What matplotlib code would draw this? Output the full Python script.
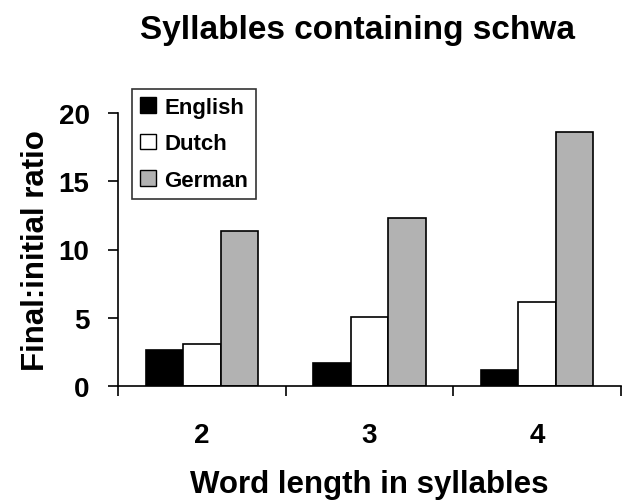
import matplotlib
matplotlib.use("Agg")
import matplotlib.pyplot as plt
import numpy as np
from matplotlib.patches import Patch

categories = ["2", "3", "4"]
languages = ["English", "Dutch", "German"]
english = [2.65, 1.68, 1.2]
dutch = [3.1, 5.07, 6.15]
german = [11.34, 12.27, 18.59]
series = [english, dutch, german]
colors = ["#000000", "#ffffff", "#b2b2b2"]

plt.rcParams['font.family'] = ['Liberation Sans', 'DejaVu Sans']
plt.rcParams['font.weight'] = 'bold'

W, H = 622, 502
fig = plt.figure(figsize=(W / 100, H / 100), dpi=100)
ax_l, ax_r, ax_t, ax_b = 118, 621, 113.7, 387.3
ax = fig.add_axes([ax_l / W, 1 - ax_b / H, (ax_r - ax_l) / W, (ax_b - ax_t) / H])

x = np.arange(1, len(categories) + 1)
w = 0.223
for i, (vals, c) in enumerate(zip(series, colors)):
    ax.bar(x + (i - 1) * w, vals, width=w, color=c, edgecolor='black',
           linewidth=1.2, label=languages[i])

ax.set_xlim(0.5, len(categories) + 0.5)
ax.set_ylim(0, 20)
ax.set_yticks([0, 5, 10, 15, 20])
ax.set_xticks(x)
ax.set_xticklabels(categories)
ax.set_xticks(np.arange(0.5, len(categories) + 1, 1.0), minor=True)
ax.tick_params(axis='x', which='major', length=0, pad=26, labelsize=20)
ax.tick_params(axis='x', which='minor', length=7.5, width=1.2, direction='out')
ax.tick_params(axis='y', length=7.5, width=1.2, direction='out', labelsize=20, pad=13)
for lbl in ax.get_xticklabels() + ax.get_yticklabels():
    lbl.set_fontweight('bold')
for s in ['top', 'right']:
    ax.spines[s].set_visible(False)
for s in ['left', 'bottom']:
    ax.spines[s].set_linewidth(1.2)

ax.set_ylabel("Final:initial ratio", fontsize=22.5, fontweight='bold')
ax.yaxis.set_label_coords((51 - ax_l) / (ax_r - ax_l), 0.5)
ax.set_xlabel("Word length in syllables", fontsize=22.5, fontweight='bold')
ax.xaxis.set_label_coords(0.5, -(470 - ax_b) / (ax_b - ax_t))

fig.text(358 / W, 1 - 39.5 / H, "Syllables containing schwa", ha='center', va='baseline',
         fontsize=24, fontweight='bold')

handles = [Patch(facecolor=c, edgecolor='black', linewidth=1.0) for c in colors]
leg = ax.legend(handles, languages, loc='upper left',
                bbox_to_anchor=(132.3 / W, 1 - 90 / H), bbox_transform=fig.transFigure,
                borderaxespad=0, frameon=True, fancybox=False, edgecolor='black',
                handlelength=0.72, handleheight=0.72, handletextpad=0.37,
                labelspacing=0.7, borderpad=0.35,
                prop={'weight': 'bold', 'size': 16})
leg.get_frame().set_linewidth(1.2)

fig.savefig("out.png", dpi=100)
